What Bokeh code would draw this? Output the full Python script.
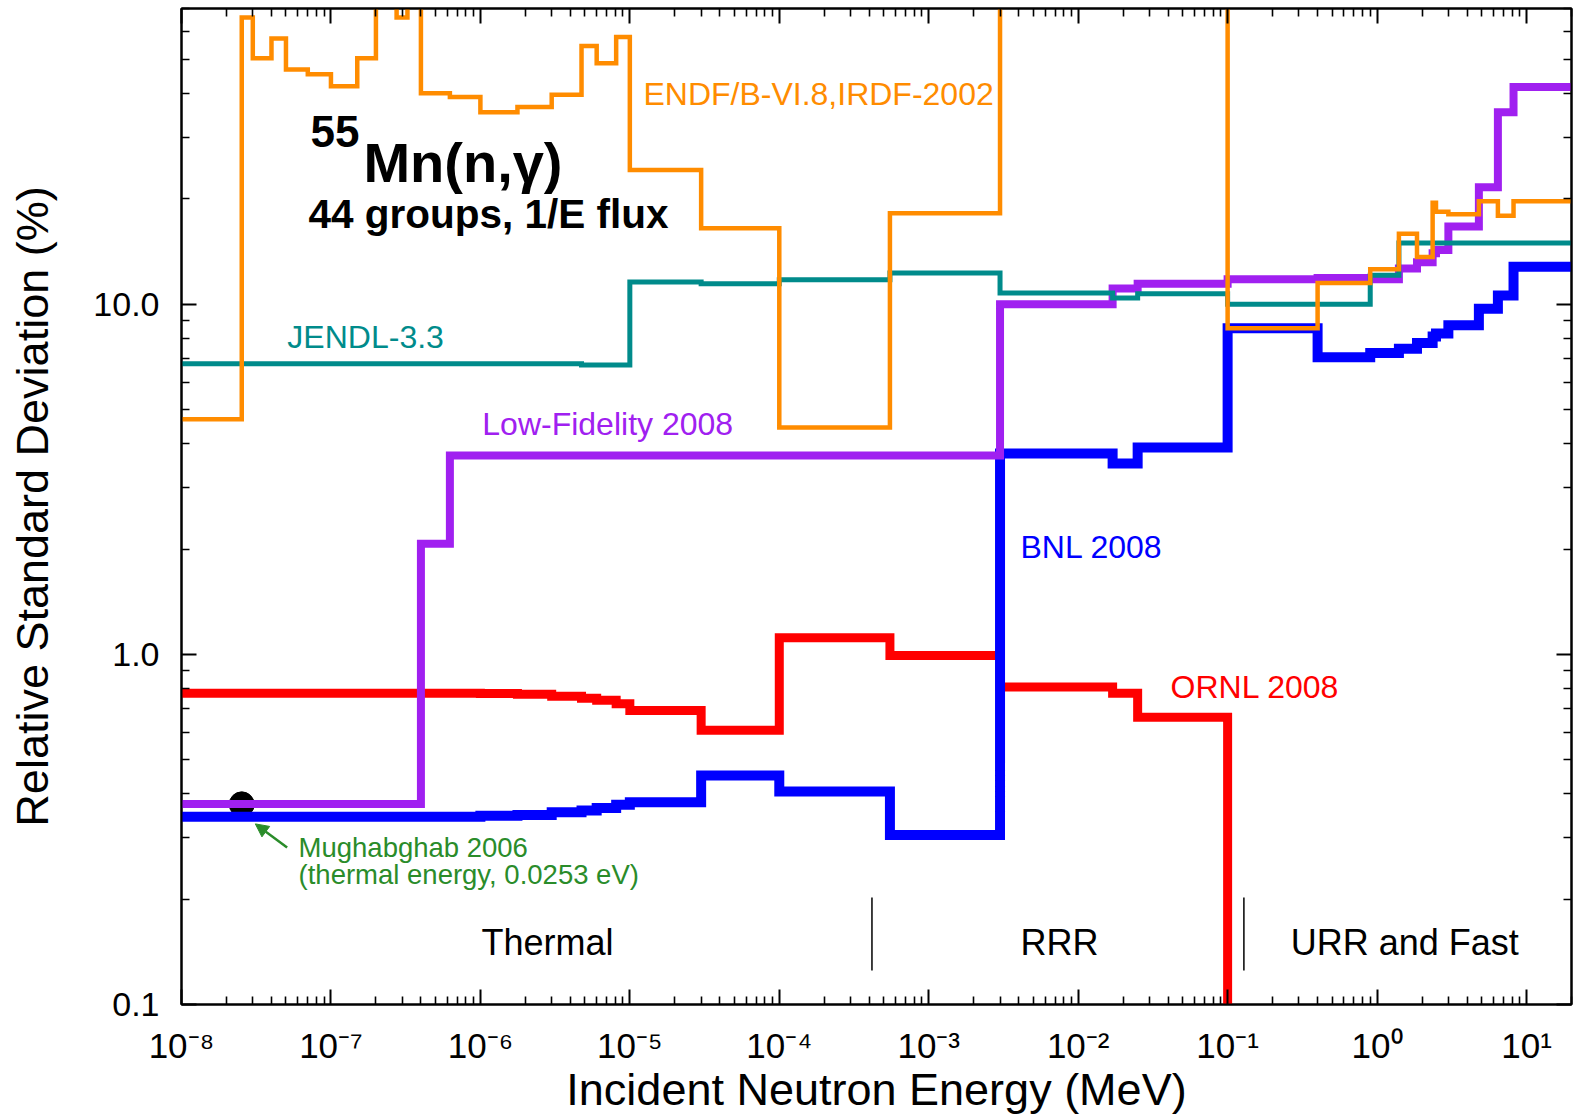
from bokeh.plotting import figure
from bokeh.models import (Range1d, FixedTicker, PrintfTickFormatter, CustomJSTickFormatter,
                          LogAxis, Label, Arrow, NormalHead)
from bokeh.embed import file_html
from bokeh.resources import INLINE

# 44-group structure (upper part, from 0.01 eV to 20 MeV), group boundaries in eV
BOUNDS_EV = [0.01, 0.0253, 0.03, 0.04, 0.05, 0.07, 0.1, 0.15, 0.2, 0.225, 0.25, 0.275,
             0.325, 0.35, 0.375, 0.4, 0.625, 1.0, 1.77, 3.0, 4.75, 6.0, 8.1, 10.0, 30.0,
             100.0, 550.0, 3.0e3, 1.7e4, 2.5e4, 1.0e5, 4.0e5, 9.0e5, 1.4e6, 1.85e6,
             2.354e6, 2.479e6, 3.0e6, 4.8e6, 6.434e6, 8.187e6, 2.0e7]
BOUNDS_MEV = [b * 1e-6 for b in BOUNDS_EV]

# relative standard deviation (%) per group (values above 70 are off scale at the top,
# values below 0.1 are off scale at the bottom)
ENDF_IRDF = [4.7, 66, 50.5, 57.5, 46.9, 45.4, 42.0, 50.5, 100, 100, 100, 66, 100, 100, 100,
             40.1, 39.1, 35.4, 36.6, 39.7, 54.7, 48.8, 58.0, 24.2, 16.5, 4.45, 18.2,
             100, 100, 100, 8.54, 11.5, 12.6, 15.9, 13.65, 19.5, 18.4, 18.1, 19.7, 17.9, 19.7]
JENDL33 = [6.77] * 20 + [6.71, 6.71, 6.71, 11.58, 11.46, 11.76, 12.29, 10.77, 10.42, 10.73,
                         10.0, 10.0, 12.1] + [14.96] * 8
LOWFI2008 = [0.374] * 15 + [2.07] + [3.70] * 11 + [10.0, 11.09, 11.46, 11.8, 11.9, 11.8,
                                                   12.65, 13.2, 14.0, 14.3, 16.7, 21.6, 35.4, 41.8]
BNL2008 = [0.344] * 17 + [0.346, 0.348, 0.354, 0.358, 0.364, 0.372, 0.378, 0.451, 0.406,
                          0.305, 3.75, 3.51, 3.90, 8.54, 7.06, 7.26, 7.47, 7.75, 8.1, 8.25,
                          8.71, 9.72, 10.6, 12.8]
ORNL2008 = [0.774] * 17 + [0.773, 0.770, 0.760, 0.750, 0.740, 0.723, 0.692, 0.607, 1.116,
                           0.993, 0.807, 0.775, 0.662] + [0.01] * 11

MUGHAB_E = [2.53e-8]   # MeV (0.0253 eV)
MUGHAB_V = [0.373]

REGION_BOUNDS = [4.17e-4, 0.1285]   # MeV
REGION_NAMES = ["Thermal", "RRR", "URR and Fast"]
REGION_CENTERS = [2.81e-6, 7.5e-3, 1.53]

X_DECADES = list(range(-8, 2))

FONT = "Liberation Sans"
ORANGE = "#FF8C00"
TEAL = "#008B8B"
PURPLE = "#A020F0"
BLUE = "#0000FF"
RED = "#FF0000"
GREEN = "#2A8C2A"

p = figure(x_axis_type="log", y_axis_type="log",
           x_range=Range1d(1e-8, 20), y_range=Range1d(0.1, 70),
           frame_width=1390, frame_height=996,
           min_border_left=181, min_border_right=3, min_border_top=8, min_border_bottom=115,
           output_backend="svg", toolbar_location=None)
p.background_fill_color = "white"
p.border_fill_color = "white"
p.grid.visible = False
p.outline_line_color = "black"
p.outline_line_width = 2

x_major = [10.0 ** k for k in X_DECADES]
x_minor = [m * 10.0 ** k for k in X_DECADES for m in range(2, 10) if m * 10.0 ** k <= 20]
y_major = [0.1, 1.0, 10.0]
y_minor = [m * 10.0 ** k for k in (-1, 0, 1) for m in range(2, 10) if m * 10.0 ** k <= 70]
xticker = FixedTicker(ticks=x_major, minor_ticks=x_minor)
yticker = FixedTicker(ticks=y_major, minor_ticks=y_minor)
empty = CustomJSTickFormatter(code="return ''")
pow10 = CustomJSTickFormatter(code="""
const sup = {"-": "\\u207b", "0": "\\u2070", "1": "\\u00b9", "2": "\\u00b2", "3": "\\u00b3",
             "4": "\\u2074", "5": "\\u2075", "6": "\\u2076", "7": "\\u2077", "8": "\\u2078",
             "9": "\\u2079"};
const e = Math.round(Math.log10(tick));
return "10" + String(e).split("").map(c => sup[c]).join("");
""")


def style_axis(ax):
    ax.axis_line_color = "black"
    ax.axis_line_width = 2
    ax.major_tick_line_color = "black"
    ax.major_tick_line_width = 2
    ax.minor_tick_line_color = "black"
    ax.minor_tick_line_width = 1.6
    ax.major_tick_in = 15
    ax.major_tick_out = 0
    ax.minor_tick_in = 8
    ax.minor_tick_out = 0


xa = p.xaxis[0]
xa.ticker = xticker
xa.formatter = pow10
xa.major_label_text_font = FONT
xa.major_label_text_font_size = "35px"
xa.major_label_text_color = "black"
xa.major_label_standoff = 21
xa.axis_label = "Incident Neutron Energy (MeV)"
xa.axis_label_text_font = FONT
xa.axis_label_text_font_size = "45px"
xa.axis_label_text_font_style = "normal"
xa.axis_label_text_color = "black"
xa.axis_label_standoff = -4
style_axis(xa)

ya = p.yaxis[0]
ya.ticker = yticker
ya.formatter = PrintfTickFormatter(format="%.1f")
ya.major_label_text_font = FONT
ya.major_label_text_font_size = "34px"
ya.major_label_text_color = "black"
ya.major_label_standoff = 22
ya.axis_label = "Relative Standard Deviation (%)"
ya.axis_label_text_font = FONT
ya.axis_label_text_font_size = "45px"
ya.axis_label_text_font_style = "normal"
ya.axis_label_text_color = "black"
ya.axis_label_standoff = 32
style_axis(ya)

top = LogAxis(ticker=xticker, formatter=empty, major_label_standoff=0)
right = LogAxis(ticker=yticker, formatter=empty, major_label_standoff=0)
style_axis(top)
style_axis(right)
p.add_layout(top, "above")
p.add_layout(right, "right")

# Mughabghab 2006 thermal point (drawn first, partially hidden by lines)
p.scatter(MUGHAB_E, MUGHAB_V, size=25, color="black")

series = [
    (ORNL2008, RED, 9),
    (BNL2008, BLUE, 10),
    (LOWFI2008, PURPLE, 8),
    (JENDL33, TEAL, 5),
    (ENDF_IRDF, ORANGE, 4.5),
]
for vals, col, lw in series:
    p.step(x=BOUNDS_MEV, y=vals + [vals[-1]], mode="after", line_color=col,
           line_width=lw, line_join="miter")

# energy region separators
p.segment(x0=REGION_BOUNDS, x1=REGION_BOUNDS, y0=[0.2023] * 2, y1=[0.125] * 2,
          line_color="black", line_width=1.5)


def lab(x, y, text, color, size, style="normal", align="left"):
    p.add_layout(Label(x=x, y=y, text=text, text_align=align, text_baseline="alphabetic",
                       y_offset=round(0.358 * size, 1),
                       text_font=FONT, text_font_size=f"{size}px", text_font_style=style,
                       text_color=color))


for name, xc in zip(REGION_NAMES, REGION_CENTERS):
    lab(xc, 0.138, name, "black", 36, align="center")

lab(1.233e-5, 37.0, "ENDF/B-VI.8,IRDF-2002", ORANGE, 32)
lab(5.11e-8, 7.48, "JENDL-3.3", TEAL, 32)
lab(1.03e-6, 4.22, "Low-Fidelity 2008", PURPLE, 32)
lab(4.11e-3, 1.88, "BNL 2008", BLUE, 32)
lab(0.0415, 0.749, "ORNL 2008", RED, 32)
lab(6.07e-8, 0.263, "Mughabghab 2006", GREEN, 27.5)
lab(6.07e-8, 0.2203, "(thermal energy, 0.0253 eV)", GREEN, 27.5)

lab(7.29e-8, 28.1, "55", "black", 44, "bold")
lab(1.65e-7, 22.3, "Mn(n,\u03b3)", "black", 56, "bold")
lab(7.08e-8, 16.5, "44 groups, 1/E flux", "black", 40.5, "bold")

p.add_layout(Arrow(end=NormalHead(size=13, fill_color=GREEN, line_color=GREEN),
                   x_start=5.09e-8, y_start=0.281, x_end=3.12e-8, y_end=0.328,
                   line_color=GREEN, line_width=2.5))

open("out.html", "w").write(file_html(p, INLINE))
